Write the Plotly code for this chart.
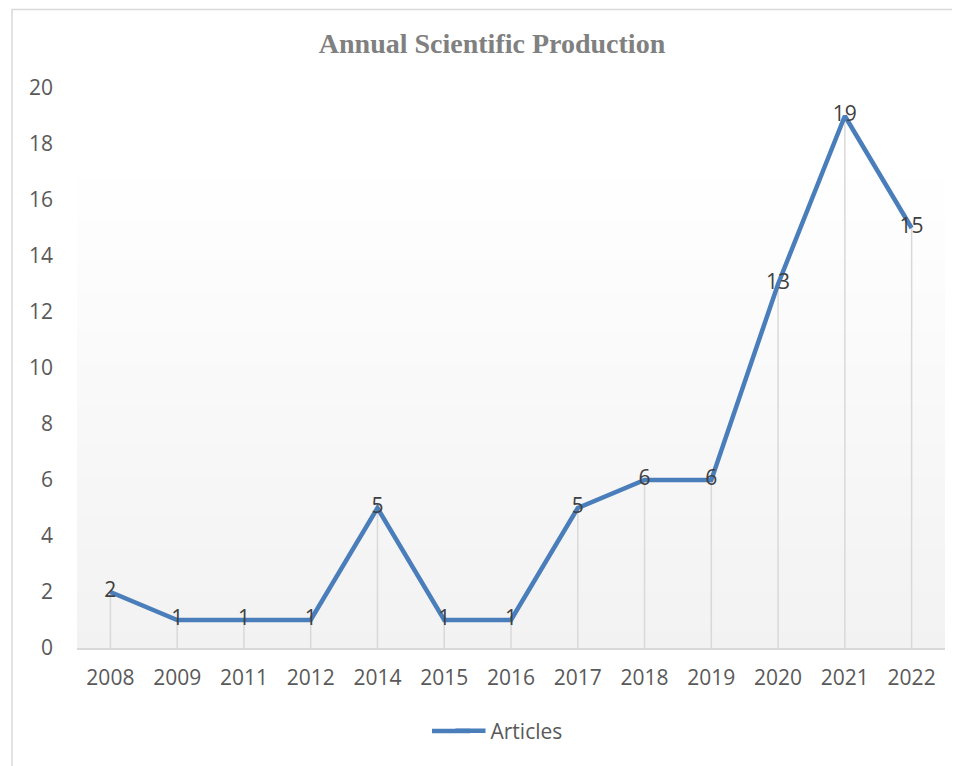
import plotly.graph_objects as go

years = ["2008", "2009", "2011", "2012", "2014", "2015", "2016", "2017", "2018", "2019", "2020", "2021", "2022"]
articles = [2, 1, 1, 1, 5, 1, 1, 5, 6, 6, 13, 19, 15]
y_ticks = [0, 2, 4, 6, 8, 10, 12, 14, 16, 18, 20]

OFF = 8  # page body margin
W, H = 960 - OFF, 766 - OFF
L, R, T = 77 - OFF, 15, 88 - OFF
B = H - (648 - OFF)
pw, ph = W - L - R, H - T - B
LINE_COLOR = "#4a7ebb"

def py(page_y):
    """page pixel y -> paper y"""
    return (T + ph - (page_y - OFF)) / ph

def px(page_x):
    return ((page_x - OFF) - L) / pw

fig = go.Figure()

# drop lines from each point down to the axis
dx, dy = [], []
for yr, v in zip(years, articles):
    dx += [yr, yr, None]
    dy += [0, v, None]
fig.add_trace(go.Scatter(x=dx, y=dy, mode="lines", line=dict(color="#d9d9d9", width=1.5),
                         showlegend=False, hoverinfo="skip"))

fig.add_trace(go.Scatter(
    x=years, y=articles, mode="lines+text", name="Articles",
    line=dict(color=LINE_COLOR, width=4.5),
    text=[str(v) for v in articles], textposition="middle center",
    textfont=dict(family="Open Sans", size=21, color="#404040"),
))

shapes = []
top_p, bot_p = py(163), 0.0
n = 60
for i in range(n):
    a = top_p - (top_p - bot_p) * i / n
    b = top_p - (top_p - bot_p) * (i + 1) / n
    t = (i + 0.5) / n
    c = round(255 - (255 - 242) * t)
    shapes.append(dict(type="rect", xref="paper", yref="paper", x0=0, x1=1,
                       y0=b, y1=a + 0.001, line=dict(width=0),
                       fillcolor=f"rgb({c},{c},{c})", layer="below"))
# chart outline
shapes.append(dict(type="rect", xref="paper", yref="paper",
                   x0=px(12), x1=px(975), y0=py(780), y1=py(9.5),
                   line=dict(color="#d9d9d9", width=1.5), fillcolor="rgba(0,0,0,0)", layer="below"))
# longer legend key line (Excel-style)
shapes.append(dict(type="line", xref="paper", yref="paper",
                   x0=px(432), x1=px(470), y0=py(731), y1=py(731),
                   line=dict(color=LINE_COLOR, width=4.5)))

fig.update_layout(
    width=W, height=H,
    margin=dict(l=L, r=R, t=T, b=B),
    paper_bgcolor="white", plot_bgcolor="rgba(0,0,0,0)",
    title=dict(text="<b>Annual Scientific Production</b>", x=(492 - OFF) / W, xref="container", xanchor="center",
               y=1 - (43 - OFF) / H, yref="container", yanchor="middle",
               font=dict(family="Liberation Serif", size=28, color="#808080")),
    shapes=shapes,
    showlegend=True,
    legend=dict(orientation="h", x=px(509), xanchor="center", y=py(731), yanchor="middle",
                font=dict(family="Open Sans", size=21, color="#595959"), bgcolor="rgba(0,0,0,0)"),
    xaxis=dict(type="category", categoryorder="array", categoryarray=years,
               showgrid=False, zeroline=False, showline=True, linecolor="#d9d9d9", linewidth=1.5,
               ticks="", tickfont=dict(family="Open Sans", size=21, color="#595959"),
               ticklabelstandoff=10, range=[-0.5, len(years) - 0.5]),
    yaxis=dict(range=[0, 20], tickvals=y_ticks, showgrid=False, zeroline=False, showline=False,
               ticks="", tickfont=dict(family="Open Sans", size=21, color="#595959"),
               ticklabelstandoff=23),
)

fig.write_html("out.html")
